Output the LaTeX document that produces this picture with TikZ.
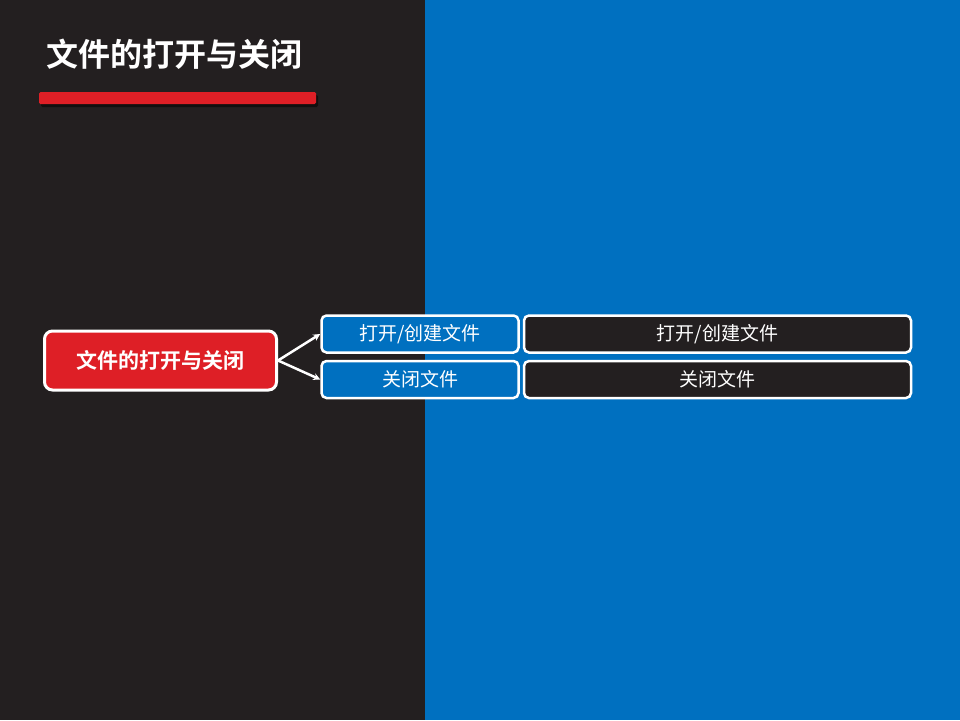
\documentclass[tikz,border=0pt]{standalone}
\usepackage{fontspec}
\setmainfont{Noto Sans CJK SC}[BoldFont={Noto Sans CJK SC Bold}]
\usetikzlibrary{arrows.meta}
\definecolor{darkbg}{HTML}{231F20}
\definecolor{bluebg}{HTML}{0070C0}
\definecolor{redc}{HTML}{DE1F26}
\tikzset{
  leftbox/.style={draw=white, line width=2.5pt, rounded corners=5pt, fill=bluebg, text=white, font=\fontsize{19}{21}\selectfont, inner sep=0pt},
  rightbox/.style={draw=white, line width=2.5pt, rounded corners=5pt, fill=darkbg, text=white, font=\fontsize{19}{21}\selectfont, inner sep=0pt},
  mainbox/.style={draw=white, line width=3pt, rounded corners=8pt, fill=redc, text=white, font=\fontsize{21}{23}\selectfont\bfseries, inner sep=0pt},
  conn/.style={draw=white, line width=2.5pt, -{Stealth[length=7pt,width=7pt]}}
}
\begin{document}
\begin{tikzpicture}[x=1pt,y=-1pt]
\useasboundingbox (0,0) rectangle (960,720);
\fill[darkbg] (0,0) rectangle (425,720);
\fill[bluebg] (425,0) rectangle (960,720);
% title
\node[anchor=west, text=white, font=\fontsize{32}{35}\selectfont\bfseries, inner sep=0pt] (title) at (46,54) {文件的打开与关闭};
% red bar with shadow
\fill[black, opacity=0.5, rounded corners=1.5pt] (41,95) rectangle (318,107);
\fill[redc, rounded corners=1.5pt] (39,92) rectangle (316,104);
% main box
\node[mainbox, minimum width=232pt, minimum height=59pt] (main) at (160.5,360.5) {文件的打开与关闭};
% left column boxes
\node[leftbox, minimum width=197pt, minimum height=37pt] (b1) at (420,334) {打开/创建文件};
\node[leftbox, minimum width=197pt, minimum height=37pt] (b2) at (420,379.5) {关闭文件};
% right column boxes
\node[rightbox, minimum width=387pt, minimum height=37pt] (c1) at (717.5,334) {打开/创建文件};
\node[rightbox, minimum width=387pt, minimum height=37pt] (c2) at (717.5,379.5) {关闭文件};
% connectors
\coordinate (src) at (main.east);
\draw[conn] (src) -- (b1.west);
\draw[conn] (src) -- (b2.west);
\end{tikzpicture}
\end{document}
